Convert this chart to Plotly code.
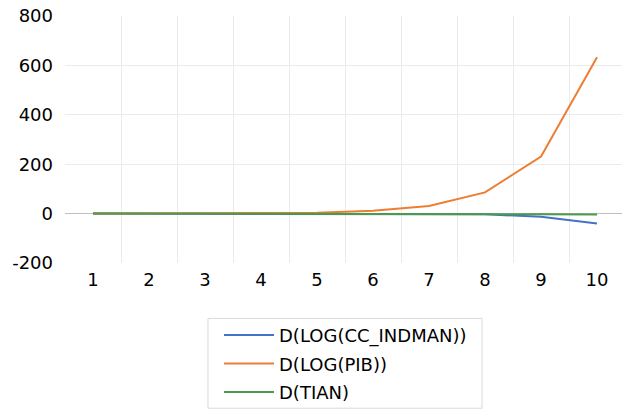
import plotly.graph_objects as go

categories = [1, 2, 3, 4, 5, 6, 7, 8, 9, 10]
cc_indman = [0, 0, 0, 0, 0, -0.5, -1, -3, -13, -40]
pib = [0, 0, 0.3, 1, 3, 12, 31, 86, 231, 633]
tian = [0, 0, 0, 0, 0, -0.5, -1, -2, -3, -4]

y_ticks = [-200, 0, 200, 400, 600, 800]
y_labels = ["-200", "0", "200", "400", "600", "800"]

FONT = "DejaVu Sans"

fig = go.Figure()
fig.add_trace(go.Scatter(x=categories, y=cc_indman, mode="lines", name="D(LOG(CC_INDMAN))",
                         line=dict(color="#4472C4", width=2), legend="legend"))
fig.add_trace(go.Scatter(x=categories, y=pib, mode="lines", name="D(LOG(PIB))",
                         line=dict(color="#ED7D31", width=2), legend="legend2"))
fig.add_trace(go.Scatter(x=categories, y=tian, mode="lines", name="D(TIAN)",
                         line=dict(color="#4C9A4C", width=2), legend="legend3"))

leg_common = dict(xanchor="left", yanchor="middle", bgcolor="rgba(0,0,0,0)",
                  borderwidth=0, font=dict(family=FONT, size=18), itemwidth=50)

fig.update_layout(
    width=622, height=410,
    margin=dict(l=65, r=0, t=16, b=146.5, autoexpand=False),
    paper_bgcolor="white", plot_bgcolor="white",
    font=dict(family=FONT, size=18, color="#000000"),
    showlegend=True,
    legend=dict(x=0.2765, y=-0.2929, **leg_common),
    legend2=dict(x=0.2765, y=-0.408, **leg_common),
    legend3=dict(x=0.2765, y=-0.523, **leg_common),
    shapes=[dict(type="rect", xref="paper", yref="paper",
                 x0=0.2567, x1=0.7487, y0=-0.5879, y1=-0.2242,
                 line=dict(color="#D9D9D9", width=1), fillcolor="rgba(0,0,0,0)")],
    xaxis=dict(
        range=[0.5, 10.446], tickvals=categories, ticktext=[str(c) for c in categories],
        showgrid=False, zeroline=False, showline=False, ticks="", automargin=False,
        ticklabelstandoff=4,
        minor=dict(tickvals=[c + 0.5 for c in categories], showgrid=True, gridcolor="#EBEBEB", gridwidth=1),
    ),
    yaxis=dict(
        range=[-200, 800], tickvals=y_ticks, ticktext=y_labels, showgrid=True, gridcolor="#EBEBEB",
        zeroline=True, zerolinecolor="#BFBFBF", zerolinewidth=1, automargin=False,
        showline=False, ticks="", ticklabelstandoff=11,
    ),
)

fig.write_html("out.html", config={"displayModeBar": False},
               post_script="document.body.style.margin='0px';document.body.style.overflow='hidden';")
